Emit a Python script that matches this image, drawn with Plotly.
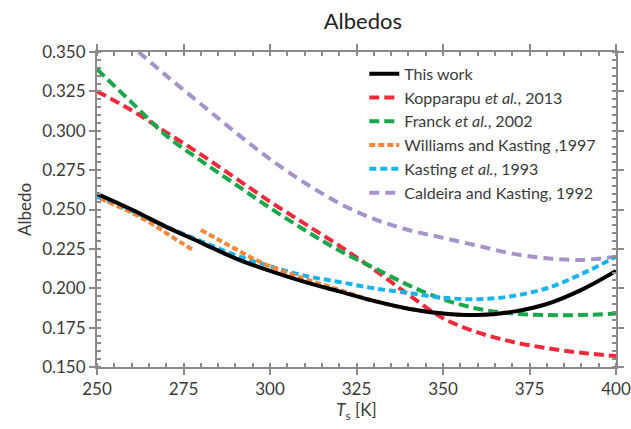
import plotly.graph_objects as go

# ---- data ----
T = [250, 260, 270, 280, 290, 300, 310, 320, 330, 340, 350, 360, 370, 380, 390, 400]

this_work = [0.260, 0.250, 0.239, 0.229, 0.219, 0.211, 0.204, 0.198, 0.192, 0.187, 0.184, 0.183, 0.185, 0.190, 0.199, 0.211]
kopparapu = [0.325, 0.313, 0.299, 0.285, 0.270, 0.255, 0.241, 0.227, 0.212, 0.196, 0.181, 0.172, 0.166, 0.162, 0.159, 0.157]
franck = [0.339, 0.318, 0.297, 0.281, 0.266, 0.251, 0.237, 0.224, 0.213, 0.202, 0.193, 0.187, 0.184, 0.183, 0.183, 0.184]
kasting93 = [0.258, 0.249, 0.239, 0.230, 0.221, 0.214, 0.208, 0.204, 0.200, 0.197, 0.194, 0.193, 0.195, 0.200, 0.209, 0.220]

T_cald = [262, 270, 280, 290, 300, 310, 320, 330, 340, 350, 360, 370, 380, 390, 400]
caldeira = [0.350, 0.335, 0.317, 0.299, 0.282, 0.267, 0.254, 0.244, 0.237, 0.232, 0.227, 0.222, 0.219, 0.218, 0.220]

T_wk1 = [251, 255, 260, 265, 270, 275, 278]
wk1 = [0.257, 0.253, 0.248, 0.242, 0.235, 0.228, 0.224]
T_wk2 = [280, 285, 290, 295, 300, 310, 320, 330, 340, 350, 360, 370]
wk2 = [0.237, 0.231, 0.225, 0.219, 0.214, 0.206, 0.199, 0.192, 0.187, 0.184, 0.183, 0.185]

FONT = "Lato"

fig = go.Figure()

fig.add_trace(go.Scatter(x=T_cald, y=caldeira, mode="lines", name="Caldeira and Kasting, 1992", line_shape="spline",
                         line=dict(color="#a593c9", width=4, dash="10px,6px"), legendrank=6))
fig.add_trace(go.Scatter(x=T, y=kopparapu, mode="lines", name="Kopparapu <i>et al.</i>, 2013", line_shape="spline",
                         line=dict(color="#ee2a3c", width=4, dash="10px,5px"), legendrank=2))
fig.add_trace(go.Scatter(x=T, y=franck, mode="lines", name="Franck <i>et al.</i>, 2002", line_shape="spline",
                         line=dict(color="#1aa64a", width=4, dash="10px,5px"), legendrank=3))
fig.add_trace(go.Scatter(x=T, y=kasting93, mode="lines", name="Kasting <i>et al.</i>, 1993", line_shape="spline",
                         line=dict(color="#19b4ec", width=4, dash="7px,4px"), legendrank=5))
fig.add_trace(go.Scatter(x=T_wk1, y=wk1, mode="lines", name="Williams and Kasting ,1997", line_shape="spline",
                         line=dict(color="#f5873a", width=4, dash="6px,3px"), legendrank=4,
                         legendgroup="wk"))
fig.add_trace(go.Scatter(x=T_wk2, y=wk2, mode="lines", name="Williams and Kasting ,1997", line_shape="spline",
                         line=dict(color="#f5873a", width=4, dash="6px,3px"), showlegend=False,
                         legendgroup="wk"))
fig.add_trace(go.Scatter(x=T, y=this_work, mode="lines", name="This work", line_shape="spline",
                         line=dict(color="#000000", width=4), legendrank=1))

axis_common = dict(
    showline=True, linecolor="#8a8a8a", linewidth=2, mirror="ticks",
    ticks="outside", ticklen=6, tickwidth=2, tickcolor="#8a8a8a",
    showgrid=False, zeroline=False, automargin=False,
    tickfont=dict(family=FONT, size=17, color="#3a3a3a"),
)

fig.update_xaxes(range=[250, 400], dtick=25, tick0=250,
                 minor=dict(dtick=5, ticks="inside", ticklen=4, tickcolor="#8a8a8a", tickwidth=1.5),
                 title=dict(text="<i>T</i><sub>s</sub> [K]", font=dict(family=FONT, size=17, color="#3a3a3a"),
                            standoff=4),
                 **axis_common)
fig.update_yaxes(range=[0.150, 0.350], dtick=0.025, tick0=0.150, tickformat=".3f",
                 minor=dict(dtick=0.005, ticks="inside", ticklen=4, tickcolor="#8a8a8a", tickwidth=1.5),
                 title=dict(text="Albedo", font=dict(family=FONT, size=17, color="#3a3a3a"), standoff=6),
                 **axis_common)

fig.update_layout(
    width=631, height=429,
    margin=dict(l=97, r=15, t=52, b=62, autoexpand=False),
    paper_bgcolor="white", plot_bgcolor="white",
    title=dict(text="Albedos", x=0.575, xanchor="center", y=0.95, yanchor="middle",
               font=dict(family=FONT, size=22, color="#222222")),
    legend=dict(x=0.515, y=0.985, xanchor="left", yanchor="top", bgcolor="rgba(0,0,0,0)",
                font=dict(family=FONT, size=16, color="#3a3a3a"), tracegroupgap=0),
    showlegend=True,
)

fig.write_html("out.html")
